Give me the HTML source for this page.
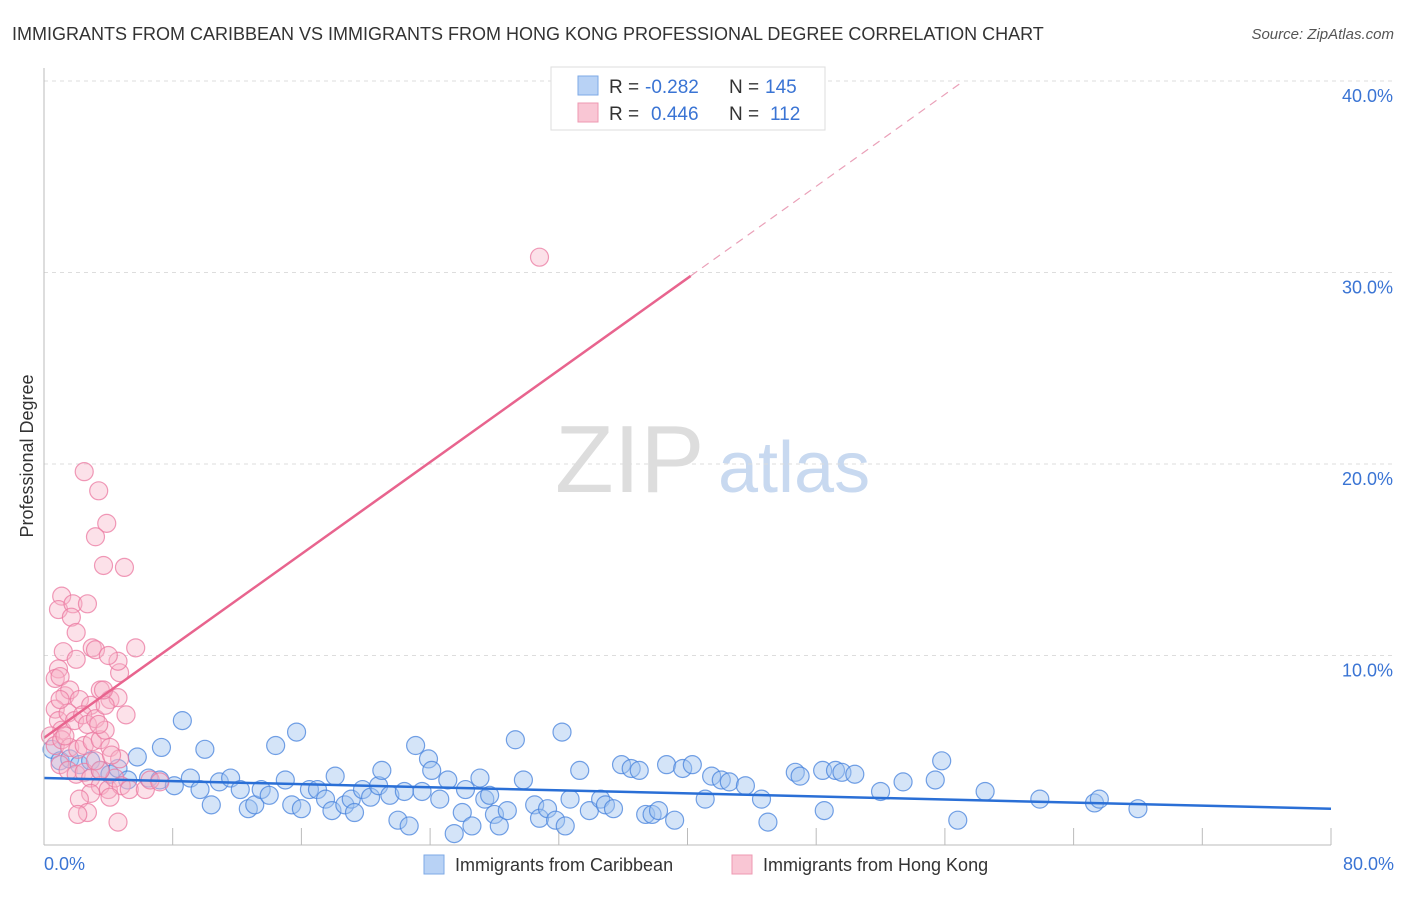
<!DOCTYPE html>
<html><head><meta charset="utf-8"><style>
body{margin:0;background:#fff;font-family:"Liberation Sans",sans-serif;}
svg text{font-family:"Liberation Sans",sans-serif;}
</style></head><body>
<svg id="c" width="1406" height="892">
<text x="12" y="40" font-size="18" fill="#333">IMMIGRANTS FROM CARIBBEAN VS IMMIGRANTS FROM HONG KONG PROFESSIONAL DEGREE CORRELATION CHART</text>
<text x="1394" y="39" font-size="15" fill="#555" font-style="italic" text-anchor="end">Source: ZipAtlas.com</text>
<text x="33" y="456" font-size="18" fill="#333" text-anchor="middle" transform="rotate(-90 33 456)">Professional Degree</text>
<g><text x="555" y="492" font-size="96" fill="#ddd" font-family="Liberation Serif">ZIP</text><text x="718" y="492" font-size="72" fill="#c8d9f0">atlas</text></g>
<g id="grid"></g><g id="pts"></g><g id="lines"></g>
<line x1="44" y1="68" x2="44" y2="845" stroke="#bbb"/>
<line x1="44" y1="845" x2="1331" y2="845" stroke="#bbb"/>
<text x="44" y="870" font-size="18" fill="#3a74d4">0.0%</text>
<text x="1394" y="870" font-size="18" fill="#3a74d4" text-anchor="end">80.0%</text>
<g>
<rect x="551" y="67" width="274" height="63" fill="#fff" stroke="#ddd"/>
<rect x="578" y="76" width="20" height="19" fill="#b8d2f5" stroke="#7ea9e6"/>
<rect x="578" y="103" width="20" height="19" fill="#f9c6d4" stroke="#ee98b2"/>
<text x="609" y="93" font-size="19" fill="#333">R =</text><text x="645" y="93" font-size="19" fill="#3a74d4">-0.282</text>
<text x="729" y="93" font-size="19" fill="#333">N =</text><text x="765" y="93" font-size="19" fill="#3a74d4">145</text>
<text x="609" y="120" font-size="19" fill="#333">R =</text><text x="651" y="120" font-size="19" fill="#3a74d4">0.446</text>
<text x="729" y="120" font-size="19" fill="#333">N =</text><text x="770" y="120" font-size="19" fill="#3a74d4">112</text>
</g>
<g><rect x="424" y="855" width="20" height="19" fill="#b8d2f5" stroke="#7ea9e6"/><text x="455" y="871" font-size="18" fill="#333">Immigrants from Caribbean</text></g>
<g><rect x="732" y="855" width="20" height="19" fill="#f9c6d4" stroke="#ee98b2"/><text x="763" y="871" font-size="18" fill="#333">Immigrants from Hong Kong</text></g>
</svg>
<script>
const yTicks=[10,20,30,40];
const yTickLabels=["10.0%","20.0%","30.0%","40.0%"];
const xTicks=[8,16,24,32,40,48,56,64,72,80];
const blueX=[0.5,1.0,1.6,2.2,2.9,3.5,4.1,4.6,5.2,5.8,6.5,7.2,7.3,8.1,8.6,9.1,9.7,10.0,10.4,10.9,11.6,12.2,12.7,13.1,13.5,14.0,14.4,15.0,15.4,15.7,16.0,16.5,17.0,17.5,17.9,18.1,18.7,19.1,19.3,19.8,20.3,20.8,21.0,21.5,22.0,22.4,22.7,23.1,23.5,23.9,24.1,24.6,25.1,25.5,26.0,26.2,26.6,27.1,27.4,27.7,28.0,28.3,28.8,29.3,29.8,30.5,30.8,31.3,31.8,32.2,32.4,32.7,33.3,33.9,34.6,34.9,35.4,35.9,36.5,37.0,37.4,37.8,38.2,38.7,39.2,39.7,40.3,41.1,41.5,42.1,42.6,43.6,44.6,45.0,46.7,47.0,48.5,48.4,49.2,49.6,50.4,52.0,53.4,55.4,55.8,56.8,58.5,61.9,65.3,65.6,68.0];
const blueY=[5.1,4.5,4.6,4.3,4.5,4.0,3.8,4.1,3.5,4.7,3.6,3.5,5.2,3.2,6.6,3.6,3.0,5.1,2.2,3.4,3.6,3.0,2.0,2.2,3.0,2.7,5.3,3.5,2.2,6.0,2.0,3.0,3.0,2.5,1.9,3.7,2.2,2.5,1.8,3.0,2.6,3.2,4.0,2.7,1.4,2.9,1.1,5.3,2.9,4.6,4.0,2.5,3.5,0.7,1.8,3.0,1.1,3.6,2.5,2.7,1.7,1.1,1.9,5.6,3.5,2.2,1.5,2.0,1.4,6.0,1.1,2.5,4.0,1.9,2.5,2.2,2.0,4.3,4.1,4.0,1.7,1.7,1.9,4.3,1.4,4.1,4.3,2.5,3.7,3.5,3.4,3.2,2.5,1.3,3.9,3.7,1.9,4.0,4.0,3.9,3.8,2.9,3.4,3.5,4.5,1.4,2.9,2.5,2.3,2.5,2.0];
const pinkX=[2.5,3.4,3.9,3.2,3.7,5.0,1.1,0.9,1.8,2.7,1.7,2.0,3.0,5.7,3.2,1.2,2.0,0.9,0.7,1.0,1.3,1.6,2.2,2.9,3.5,4.1,4.6,5.1,0.7,0.9,1.1,1.5,1.9,2.4,2.7,3.2,3.8,0.4,0.7,1.1,1.6,2.1,2.5,3.0,3.5,4.1,4.7,1.0,1.5,2.0,2.5,2.9,3.5,4.0,4.4,4.8,5.3,2.9,4.1,2.2,2.7,2.1,4.6,6.3,6.6,7.2,3.5,3.2,4.2,3.8,3.4,4.7,3.7,4.6,4.0,30.8,1.0,1.3];
const pinkY=[19.6,18.6,16.9,16.2,14.7,14.6,13.1,12.4,12.7,12.7,12.0,11.2,10.4,10.4,10.3,10.2,9.8,9.3,8.8,8.9,7.9,8.2,7.7,7.4,8.2,7.7,7.8,6.9,7.2,6.6,6.1,7.0,6.6,6.9,6.4,6.7,7.4,5.8,5.3,5.6,5.2,5.1,5.3,5.5,5.6,5.2,4.6,4.3,4.0,3.8,3.9,3.6,3.2,3.0,3.6,3.2,3.0,2.8,2.6,2.5,1.8,1.7,1.3,3.0,3.5,3.4,4.0,4.5,4.8,6.1,6.4,9.1,8.2,9.7,10.0,30.8,7.7,5.8];
const blueTrend=[3.6,-0.02];   // intercept, slope
const pinkTrend=[5.7,0.6];
const pinkSolidEnd=40.2, pinkDashEnd=57.2;
const NS='http://www.w3.org/2000/svg';
const X=v=>44+v/80*1287, Y=v=>847-v*19.15;
function mk(t,a,p){const e=document.createElementNS(NS,t);for(const k in a)e.setAttribute(k,a[k]);p.appendChild(e);return e;}
const grid=document.getElementById('grid');
yTicks.forEach((t,i)=>{
 const l=mk('line',{x1:44,x2:1393,y1:Y(t),y2:Y(t),stroke:'#ddd','stroke-dasharray':'4,4'},grid);
 
 
 const tx=mk('text',{x:1393,y:Y(t)+21,'font-size':18,fill:'#3a74d4','text-anchor':'end'},grid);
 tx.textContent=yTickLabels[i];
 
 
});
xTicks.forEach(t=>{
 const l=mk('line',{x1:X(t),x2:X(t),y1:828,y2:845,stroke:'#bbb'},grid);
 
 
});
const pts=document.getElementById('pts');
blueX.forEach((v,i)=>{
 const c=mk('circle',{cx:X(v),cy:Y(blueY[i]),r:9,fill:'rgba(160,195,240,0.45)',stroke:'rgba(70,130,220,0.75)','stroke-width':1.2},pts);
 
 
});
pinkX.forEach((v,i)=>{
 const c=mk('circle',{cx:X(v),cy:Y(pinkY[i]),r:9,fill:'rgba(248,180,200,0.4)',stroke:'rgba(235,120,160,0.75)','stroke-width':1.2},pts);
 
 
});
const lines=document.getElementById('lines');
const bl=mk('line',{x1:X(0),y1:Y(blueTrend[0]),x2:X(80),y2:Y(blueTrend[0]+80*blueTrend[1]),stroke:'#2a6fd6','stroke-width':2.5},lines);


const pl=mk('line',{x1:X(0),y1:Y(pinkTrend[0]),x2:X(pinkSolidEnd),y2:Y(pinkTrend[0]+pinkSolidEnd*pinkTrend[1]),stroke:'#e8648e','stroke-width':2.5},lines);


const pd=mk('line',{x1:X(pinkSolidEnd),y1:Y(pinkTrend[0]+pinkSolidEnd*pinkTrend[1]),x2:X(pinkDashEnd),y2:Y(pinkTrend[0]+pinkDashEnd*pinkTrend[1]),stroke:'#eaa0b8','stroke-width':1.2,'stroke-dasharray':'8,6'},lines);


</script>
</body></html>
